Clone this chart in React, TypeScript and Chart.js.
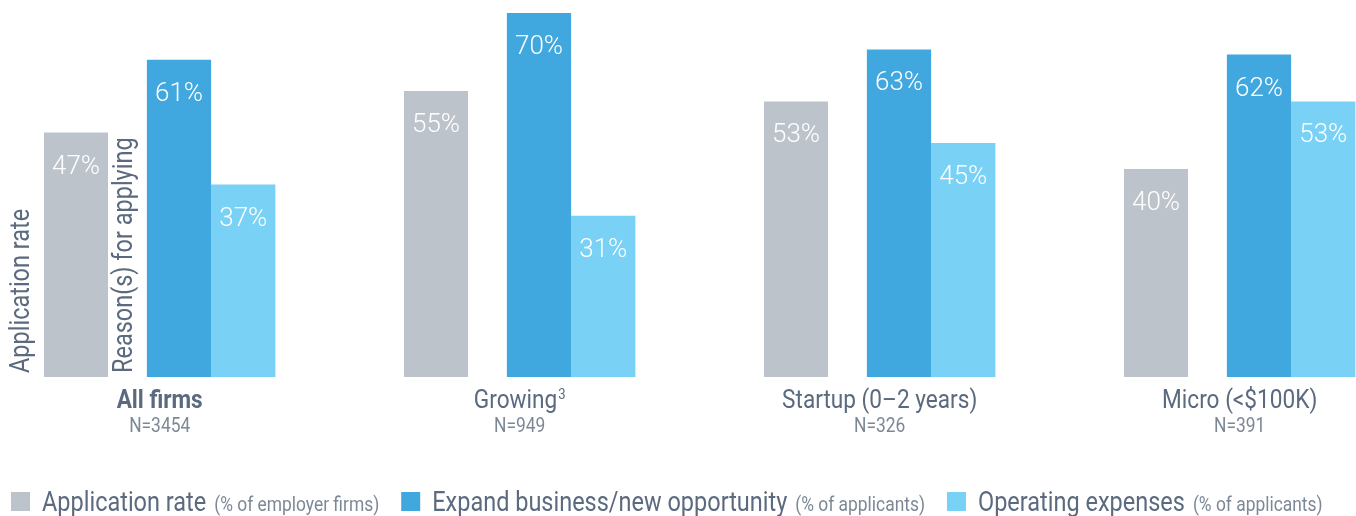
import React, { useEffect, useRef } from "react";
import { Chart, registerables } from "chart.js";

Chart.register(...registerables);

// ---- data ----
const categories = ["All firms", "Growing", "Startup (0–2 years)", "Micro (<$100K)"];
const categoryFootnotes = ["", "3", "", ""];
const categoryBold = [true, false, false, false];
const sampleSizes = ["N=3454", "N=949", "N=326", "N=391"];
const applicationRate = [47, 55, 53, 40];
const expandBusiness = [61, 70, 63, 62];
const operatingExpenses = [37, 31, 45, 53];
const seriesNames = ["Application rate", "Expand business/new opportunity", "Operating expenses"];
const seriesNotes = ["(% of employer firms)", "(% of applicants)", "(% of applicants)"];
const groupTitles = ["Application rate", "Reason(s) for applying"];

// ---- styles ----
const COLORS = ["#bdc3cb", "#41a8df", "#79d1f5"];
const TEXT_DARK = "#5b6a7e";
const TEXT_LIGHT = "#7d8896";
const FONT = "Roboto";
const SX = 0.87;

function drawText(
  ctx: CanvasRenderingContext2D,
  text: string,
  x: number,
  y: number,
  font: string,
  color: string,
  align: "left" | "center" | "right",
  sx: number = SX
) {
  ctx.save();
  ctx.font = font;
  ctx.fillStyle = color;
  ctx.textBaseline = "alphabetic";
  ctx.textAlign = "left";
  const w = ctx.measureText(text).width * sx;
  let x0 = x;
  if (align === "center") x0 = x - w / 2;
  else if (align === "right") x0 = x - w;
  ctx.translate(x0, y);
  ctx.scale(sx, 1);
  ctx.fillText(text, 0, 0);
  ctx.restore();
  return w;
}

function measure(ctx: CanvasRenderingContext2D, text: string, font: string, sx: number = SX) {
  ctx.save();
  ctx.font = font;
  const w = ctx.measureText(text).width * sx;
  ctx.restore();
  return w;
}

const annotations = {
  id: "annotations",
  afterDatasetsDraw(chart: any) {
    const ctx: CanvasRenderingContext2D = chart.ctx;
    const area = chart.chartArea;
    const metas = [0, 1, 2].map((i) => chart.getDatasetMeta(i));
    const series = [applicationRate, expandBusiness, operatingExpenses];

    // value labels inside bars
    metas.forEach((meta: any, i: number) => {
      meta.data.forEach((el: any, j: number) => {
        const p = el.getProps(["x", "y"], true);
        drawText(ctx, `${series[i][j]}%`, p.x, p.y + 41, `300 26px ${FONT}`, "#ffffff", "center", 1);
      });
    });

    // category labels
    categories.forEach((cat, j) => {
      const g = metas[0].data[j].getProps(["x", "width"], true);
      const l = metas[2].data[j].getProps(["x", "width"], true);
      const left = g.x - g.width / 2;
      const right = l.x + l.width / 2;
      const cx = (left + right) / 2;
      const mainFont = `${categoryBold[j] ? 700 : 400} 26px ${FONT}`;
      const supFont = `400 15px ${FONT}`;
      const w1 = measure(ctx, cat, mainFont);
      const fn = categoryFootnotes[j];
      const w2 = fn ? measure(ctx, fn, supFont) + 1 : 0;
      const start = cx - (w1 + w2) / 2;
      const base = area.bottom + 31;
      drawText(ctx, cat, start, base, mainFont, TEXT_DARK, "left");
      if (fn) drawText(ctx, fn, start + w1 + 1, base - 9, supFont, TEXT_DARK, "left");
      drawText(ctx, sampleSizes[j], cx, area.bottom + 55, `400 20px ${FONT}`, TEXT_LIGHT, "center");
    });

    // rotated group titles in first group
    const g0 = metas[0].data[0].getProps(["x", "width"], true);
    const b0 = metas[1].data[0].getProps(["x", "width"], true);
    const rot = (text: string, baseX: number) => {
      ctx.save();
      ctx.translate(baseX, area.bottom - 4);
      ctx.rotate(-Math.PI / 2);
      drawText(ctx, text, 0, 0, `400 27px ${FONT}`, TEXT_DARK, "left");
      ctx.restore();
    };
    rot(groupTitles[0], g0.x - g0.width / 2 - 15.5);
    rot(groupTitles[1], b0.x - b0.width / 2 - 14.5);

    // legend
    let x = 11;
    const sq = 19;
    const ly = 511;
    seriesNames.forEach((name, i) => {
      ctx.save();
      ctx.fillStyle = COLORS[i];
      ctx.fillRect(x, 492, sq, sq);
      ctx.restore();
      x += sq + 12;
      x += drawText(ctx, name, x, ly, `400 27px ${FONT}`, TEXT_DARK, "left");
      x += 8;
      x += drawText(ctx, seriesNotes[i], x, ly, `400 20px ${FONT}`, TEXT_LIGHT, "left");
      x += 22;
    });
  },
};

export default function App() {
  const ref = useRef<HTMLCanvasElement | null>(null);
  useEffect(() => {
    if (!ref.current) return;
    const chart = new Chart(ref.current, {
      type: "bar",
      data: {
        labels: categories,
        datasets: [
          {
            label: seriesNames[0],
            data: applicationRate,
            backgroundColor: COLORS[0],
            categoryPercentage: 0.8583,
            barPercentage: 0.6214,
            borderWidth: 0,
            clip: false,
          } as any,
          {
            label: seriesNames[1],
            data: expandBusiness,
            backgroundColor: COLORS[1],
            categoryPercentage: 0.5354,
            barPercentage: 1,
            borderWidth: 0,
            clip: false,
          } as any,
          {
            label: seriesNames[2],
            data: operatingExpenses,
            backgroundColor: COLORS[2],
            categoryPercentage: 0.5354,
            barPercentage: 1,
            borderWidth: 0,
            clip: false,
          } as any,
        ],
      },
      options: {
        responsive: false,
        animation: false,
        devicePixelRatio: 1,
        layout: { padding: { left: 179, right: 97, top: 13, bottom: 139 } },
        plugins: { legend: { display: false }, tooltip: { enabled: false } },
        scales: {
          x: { type: "category", offset: false, display: false, grid: { display: false } },
          y: { min: 0, max: 70, display: false, grid: { display: false } },
        },
      } as any,
      plugins: [annotations],
    });
    return () => chart.destroy();
  }, []);
  return (
    <div style={{ position: "absolute", left: 0, top: 0, width: 1356, height: 516, background: "#fff" }}>
      <canvas ref={ref} width={1356} height={516} style={{ display: "block" }} />
    </div>
  );
}
